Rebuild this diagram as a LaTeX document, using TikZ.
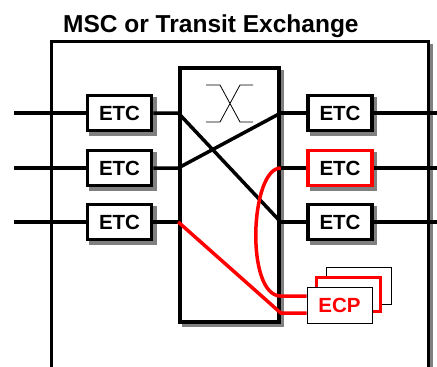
\documentclass[tikz,border=0pt]{standalone}
\usepackage{fontspec}
\setmainfont{Liberation Sans}
\usetikzlibrary{backgrounds}
\tikzset{
  etcbox/.style={draw,line width=3.5pt,fill=white,minimum width=64pt,minimum height=35pt,inner sep=0pt,font=\fontsize{20.5}{20.5}\selectfont\bfseries},
  ecpbox/.style={draw,line width=0.8pt,fill=white,minimum width=65pt,minimum height=36pt,inner sep=0pt},
  trait/.style={line width=3.5pt},
  ombre/.style={fill=black!50},
}
\begin{document}
\begin{tikzpicture}[x=1pt,y=-1pt]% une unité = un pixel de l'image
	\useasboundingbox (0,0) rectangle (437,367);
	\node[anchor=base west,inner sep=0pt,font=\fontsize{24.5}{24.5}\selectfont\bfseries] (titre) at (63,32) {MSC or Transit Exchange};
	\draw[black!50,line width=3pt] (431,44) -- (431,367);
	\draw[line width=3pt] (51,367) -- (51,41) -- (428,41) -- (428,367);
	
	\node[draw,line width=3.5pt,fill=white,minimum width=99pt,minimum height=254pt] (sw) at (229.5,195) {};
	\draw[line width=0.8pt] (206,85) -- (220,85) -- (240,122) -- (253,122) (253,85) -- (240,85) -- (220,122) -- (206,122);
	
	\foreach \i/\y in {1/113,2/168,3/222}{
		\node[etcbox] (etcg\i) at (119.5,\y) {ETC};
		\coordinate (in\i) at (14,\y);
		\draw[trait] (in\i) -- (etcg\i);}
	\foreach \i/\y/\c in {1/113/black,2/168/red,3/222/black}{
		\node[etcbox,draw=\c] (etcd\i) at (340,\y) {ETC};
		\coordinate (out\i) at (437,\y);
		\draw[trait] (etcd\i) -- (out\i);
		\draw[trait] (sw.east |- etcd\i) -- (etcd\i);}
	
	% ombres portées
	\begin{scope}[on background layer]
		\foreach \n in {sw,etcg1,etcg2,etcg3,etcd1,etcd2,etcd3}{
			\fill[ombre] ([shift={(3.5pt,-3.5pt)}]\n.south west) rectangle ([shift={(3.5pt,-3.5pt)}]\n.north east);}
	\end{scope}
	
	\draw[trait] (etcg1) -- (sw.west |- etcg1) -- (sw.east |- etcd3);
	\draw[trait] (etcg2) -- (sw.west |- etcg2) -- (sw.east |- etcd1);
	\draw[trait] (etcg3) -- (sw.west |- etcg3);
	
	\node[ecpbox,minimum height=37pt] (ecp3) at (358.5,285.5) {};
	\node[ecpbox,draw=red,line width=3.5pt,minimum width=64pt,minimum height=34pt] (ecp2) at (348.5,294.5) {};
	\node[ecpbox,text=red,font=\fontsize{20.5}{20.5}\selectfont\bfseries] (ecp1) at (339.5,305) {ECP};
	\coordinate (ecpa) at ([yshift=9pt]ecp1.west);
	\coordinate (ecpb) at ([yshift=-8pt]ecp1.west);
	
	\draw[trait,red] (sw.west |- etcg3) -- (sw.east |- ecpb) -- (ecpb);
	\draw[trait,red] (sw.east |- etcd2) .. controls (250,168) and (245,296) .. (sw.east |- ecpa) -- (ecpa);
\end{tikzpicture}
\end{document}
